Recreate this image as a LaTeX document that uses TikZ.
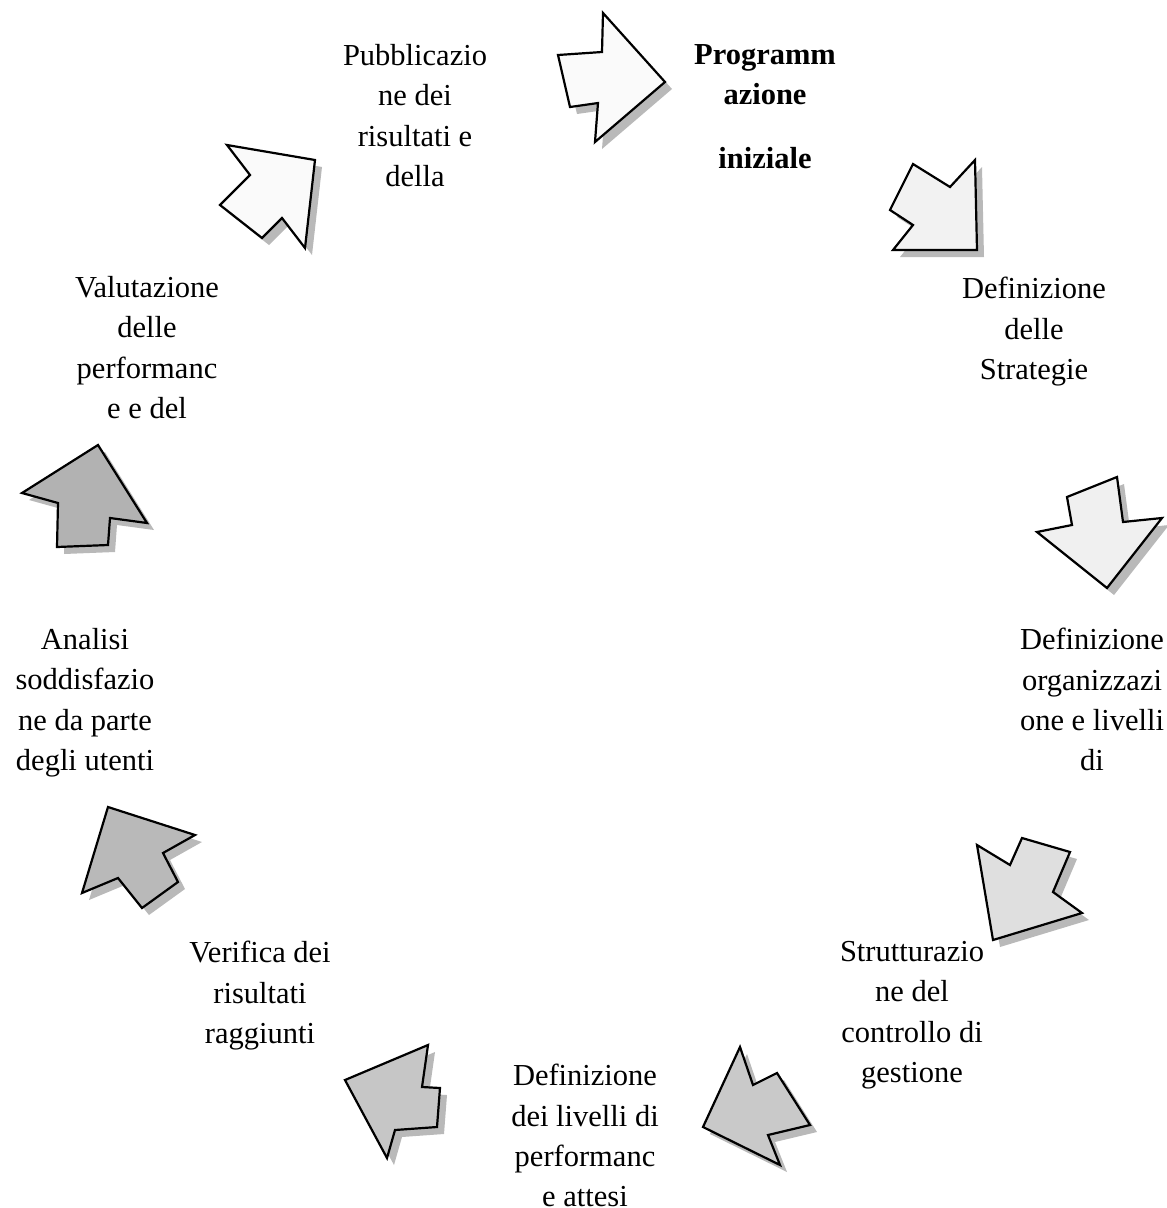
\documentclass[tikz,border=0pt]{standalone}
\usepackage{fontspec}
\setmainfont{LiberationSerif}[Extension=.ttf, UprightFont=*-Regular, BoldFont=*-Bold]
\usepackage{tikz}
\tikzset{
  x=1pt, y=-1pt,
  every node/.style={align=center, inner sep=0pt, anchor=north,
    font=\fontsize{30.5}{40.4}\selectfont},
  arrow body/.style={line width=2.2pt, line join=miter, draw=black},
  arrow shadow/.style={fill=gray!55, shift={(7,7)}}
  }
% one block arrow of the cycle: fill colour, then its outline
\newcommand{\blockarrow}[2]{%
  \fill[arrow shadow] #2 -- cycle;
  \draw[arrow body, fill=#1] #2 -- cycle;}

\begin{document}
\begin{tikzpicture}
    \useasboundingbox (0,0) rectangle (1167,1208);

    % the arrows, clockwise from the top
    \blockarrow{gray!4}{(603,13) -- (665,82) -- (595,142) -- (598,103) -- (570,107) -- (558,55) -- (602,52)}
    \blockarrow{gray!10}{(913,164) -- (950,187) -- (975,160) -- (977,250) -- (893,250) -- (913,225) -- (890,210)}
    \blockarrow{gray!12}{(1067,497) -- (1117,477) -- (1123,522) -- (1162,518) -- (1107,588) -- (1037,532) -- (1072,525)}
    \blockarrow{gray!25}{(977,845) -- (1010,865) -- (1022,838) -- (1070,852) -- (1053,892) -- (1082,913) -- (993,940)}
    \blockarrow{gray!42}{(740,1047) -- (753,1085) -- (777,1073) -- (810,1125) -- (768,1135) -- (780,1165) -- (703,1127)}
    \blockarrow{gray!45}{(428,1045) -- (422,1087) -- (440,1088) -- (437,1127) -- (395,1130) -- (387,1158) -- (345,1080)}
    \blockarrow{gray!55}{(108,807) -- (195,835) -- (163,853) -- (178,882) -- (142,908) -- (118,878) -- (82,893)}
    \blockarrow{gray!60}{(98,445) -- (147,523) -- (110,518) -- (108,545) -- (57,547) -- (58,503) -- (22,493)}
    \blockarrow{gray!4}{(227,145) -- (315,160) -- (305,248) -- (282,218) -- (262,238) -- (220,205) -- (250,175)}

    % the phases
    \node (prog) at (765,44) {\bfseries Programm\\ \bfseries azione\\[24pt] \bfseries iniziale};
    \node (strat) at (1034,277) {Definizione\\ delle\\ Strategie};
    \node (org) at (1092,628) {Definizione\\ organizzazi\\ one e livelli\\ di};
    \node (strutt) at (912,941) {Strutturazio\\ ne del\\ controllo di\\ gestione};
    \node (livelli) at (585,1064) {Definizione\\ dei livelli di\\ performanc\\ e attesi};
    \node (verif) at (260,941) {Verifica dei\\ risultati\\ raggiunti};
    \node (anal) at (85,628) {Analisi\\ soddisfazio\\ ne da parte\\ degli utenti};
    \node (valut) at (147,276) {Valutazione\\ delle\\ performanc\\ e e del};
    \node (pubbl) at (415,44) {Pubblicazio\\ ne dei\\ risultati e\\ della};
\end{tikzpicture}
\end{document}
